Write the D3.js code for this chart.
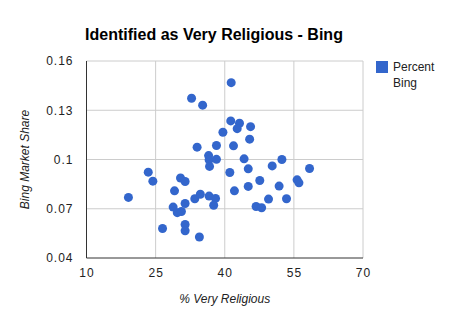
<!DOCTYPE html>
<html>
<head>
<meta charset="utf-8">
<script src="https://cdn.jsdelivr.net/npm/d3@7"></script>
<style>
  body { margin: 0; background: #fff; }
  text { font-family: "Liberation Sans", Arial, sans-serif; }
</style>
</head>
<body>
<div id="container"></div>
<script>
const WIDTH = 450;
const HEIGHT = 320;
const MARGIN = { TOP: 61, BOTTOM: 62, LEFT: 86.5, RIGHT: 87 };

const width = WIDTH - MARGIN.LEFT - MARGIN.RIGHT;
const height = HEIGHT - MARGIN.TOP - MARGIN.BOTTOM;

// % very religious per state
const religious = [32.8, 35.2, 41.4, 41.3, 43.2, 42.7, 45.6, 39.6, 45.4, 34.0,
                   38.2, 41.9, 36.5, 36.6, 38.2, 36.7, 44.2, 52.4, 45.1, 50.3,
                   58.4, 41.1, 23.4, 24.4, 30.4, 31.4, 19.1, 29.1, 33.5, 34.7,
                   36.6, 38.0, 37.6, 31.4, 28.8, 29.7, 30.6, 31.4, 31.4, 26.5,
                   34.5, 47.6, 45.1, 42.1, 51.8, 55.7, 56.1, 49.5, 53.4, 46.8,
                   48.0];
// Bing market share per state
const bing = [0.1373, 0.1331, 0.1468, 0.1235, 0.1221, 0.1188, 0.1200, 0.1166, 0.1124, 0.1075,
              0.1085, 0.1083, 0.1024, 0.0998, 0.1001, 0.0958, 0.1004, 0.1000, 0.0943, 0.0961,
              0.0945, 0.0921, 0.0923, 0.0868, 0.0887, 0.0866, 0.0769, 0.0809, 0.0761, 0.0788,
              0.0777, 0.0763, 0.0721, 0.0732, 0.0710, 0.0676, 0.0683, 0.0604, 0.0566, 0.0580,
              0.0528, 0.0872, 0.0836, 0.0809, 0.0838, 0.0876, 0.0858, 0.0759, 0.0761, 0.0714,
              0.0706];

const xTicks = [10, 25, 40, 55, 70];
const yTicks = [0.04, 0.07, 0.1, 0.13, 0.16];
const yTickLabels = ['0.04', '0.07', '0.1', '0.13', '0.16'];

const dataset = religious.map((r, i) => ({ r, b: bing[i] }));

const svg = d3.select('#container')
              .append('svg')
                .attr('width', WIDTH)
                .attr('height', HEIGHT);

const container = svg.append('g')
                     .attr('transform', `translate(${MARGIN.LEFT}, ${MARGIN.TOP})`);

const xscale = d3.scaleLinear().domain([10, 70]).range([0, width]);
const yscale = d3.scaleLinear().domain([0.04, 0.16]).range([height, 0]);

// gridlines
container.append('g')
  .selectAll('line')
  .data(xTicks.slice(1))
  .join('line')
    .attr('x1', d => xscale(d)).attr('x2', d => xscale(d))
    .attr('y1', 0).attr('y2', height)
    .attr('stroke', '#ccc');

container.append('g')
  .selectAll('line')
  .data(yTicks.slice(1))
  .join('line')
    .attr('x1', 0).attr('x2', width)
    .attr('y1', d => yscale(d)).attr('y2', d => yscale(d))
    .attr('stroke', '#ccc');

// tick labels
const axisBottom = d3.axisBottom(xscale).tickValues(xTicks).tickSize(0).tickPadding(10);
const axisLeft = d3.axisLeft(yscale).tickValues(yTicks).tickSize(0).tickPadding(13)
                   .tickFormat((d, i) => yTickLabels[i]);

const xAxis = container.append('g')
                .attr('transform', `translate(0, ${height})`)
                .call(axisBottom);
const yAxis = container.append('g').call(axisLeft);

[xAxis, yAxis].forEach(a => {
  a.select('.domain').remove();
  a.selectAll('text')
    .attr('fill', '#222')
    .style('font-size', '12px')
    .style('letter-spacing', '1px')
    .style('font-family', '"Liberation Sans", Arial, sans-serif');
});

// axis lines
container.append('line')
  .attr('x1', 0).attr('x2', 0).attr('y1', 0).attr('y2', height)
  .attr('stroke', '#333');
container.append('line')
  .attr('x1', 0).attr('x2', width).attr('y1', height).attr('y2', height)
  .attr('stroke', '#333');

// points
container.append('g')
  .selectAll('circle')
  .data(dataset)
  .join('circle')
    .attr('cx', d => xscale(d.r))
    .attr('cy', d => yscale(d.b))
    .attr('r', 4.5)
    .attr('fill', '#3366cc');

// title
svg.append('text')
  .attr('x', 214).attr('y', 40)
  .attr('text-anchor', 'middle')
  .style('font-size', '16px')
  .style('font-weight', 'bold')
  .attr('fill', '#000')
  .text('Identified as Very Religious - Bing');

// axis titles
svg.append('text')
  .attr('x', MARGIN.LEFT + width / 2).attr('y', 303)
  .attr('text-anchor', 'middle')
  .style('font-size', '12px')
  .style('font-style', 'italic')
  .attr('fill', '#222')
  .text('% Very Religious');

svg.append('text')
  .attr('transform', `translate(29, ${MARGIN.TOP + height / 2}) rotate(-90)`)
  .attr('text-anchor', 'middle')
  .style('font-size', '12px')
  .style('font-style', 'italic')
  .attr('fill', '#222')
  .text('Bing Market Share');

// legend
const legend = svg.append('g').attr('transform', 'translate(376, 61)');
legend.append('rect')
  .attr('width', 12).attr('height', 12)
  .attr('fill', '#3366cc');
legend.append('text')
  .attr('x', 17).attr('y', 10)
  .style('font-size', '12px')
  .attr('fill', '#222')
  .text('Percent');
legend.append('text')
  .attr('x', 17).attr('y', 26)
  .style('font-size', '12px')
  .attr('fill', '#222')
  .text('Bing');
</script>
</body>
</html>
